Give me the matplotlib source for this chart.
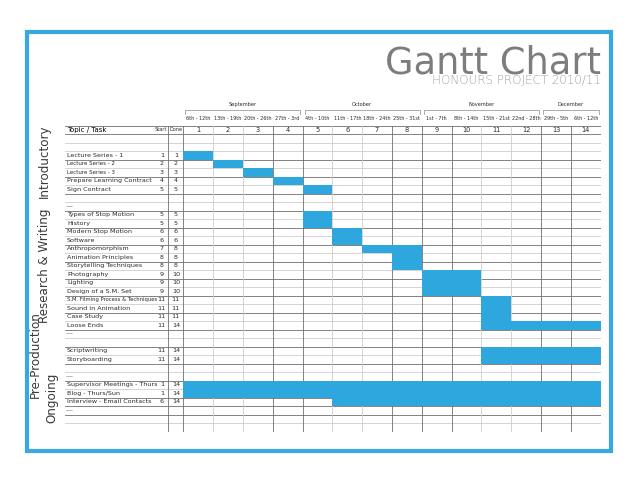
import matplotlib as mpl
mpl.use('Agg')
import matplotlib.pyplot as plt
import matplotlib.transforms as mtransforms
from matplotlib.patches import Rectangle


weeks = list(range(1, 15))
week_dates = ['6th - 12th', '13th - 19th', '20th - 26th', '27th - 3rd',
              '4th - 10th', '11th - 17th', '18th - 24th', '25th - 31st',
              '1st - 7th', '8th - 14th', '15th - 21st', '22nd - 28th',
              '29th - 5th', '6th - 12th']
months = ['September', 'October', 'November', 'December']
month_weeks = [4, 4, 4, 2]

# one entry per sheet row under the header ('' = empty row, '-' = dash row)
tasks = ['', '',
         'Lecture Series - 1', 'Lecture Series - 2', 'Lecture Series - 3',
         'Prepare Learning Contract', 'Sign Contract', '', '-',
         'Types of Stop Motion', 'History', 'Modern Stop Motion', 'Software',
         'Anthropomorphism', 'Animation Principles', 'Storytelling Techniques',
         'Photography', 'Lighting', 'Design of a S.M. Set',
         'S.M. Filming Process & Techniques', 'Sound in Animation',
         'Case Study', 'Loose Ends', '-', '',
         'Scriptwriting', 'Storyboarding', '', '-',
         'Supervisor Meetings - Thurs', 'Blog - Thurs/Sun',
         'Interview - Email Contacts', '-', '', '']
start = [None, None, 1, 2, 3, 4, 5, None, None,
         5, 5, 6, 6, 7, 8, 8, 9, 9, 9, 11, 11, 11, 11, None, None,
         11, 11, None, None, 1, 1, 6, None, None, None]
done = [None, None, 1, 2, 3, 4, 5, None, None,
        5, 5, 6, 6, 8, 8, 8, 10, 10, 10, 11, 11, 11, 14, None, None,
        14, 14, None, None, 14, 14, 14, None, None, None]

sections = ['Introductory', 'Research & Writing', 'Pre-Production', 'Ongoing']

bar_color = '#2ea7de'
dark = '#6f6f6f'
light = '#cdcdcd'
txt = '#2a2a2a'

##########

W, H = 638, 479
fig = plt.figure(figsize=(W / 100, H / 100), dpi=100)
fig.patch.set_facecolor('white')

# table area in pixels: left 65, right 600.7, top 95.75, bottom 431.5
ax = fig.add_axes([65 / W, (H - 431.5) / H, (600.7 - 65) / W, (431.5 - 95.75) / H])
ax.set_xlim(-3.968, 14)
ax.set_ylim(36, -3.5)
ax.axis('off')

n_rows = len(tasks) + 1

# horizontal grid lines
for b in range(n_rows + 1):
    k = b - 3
    if b <= 1 or (k > 0 and k % 2 == 1) or b == 33:
        col = dark
    else:
        col = light
    ax.plot([-3.968, 14], [b, b], color=col, lw=0.6, zorder=1)

# vertical grid lines of the week columns
dark_bounds = [0, 3, 4, 7, 8, 9, 12, 13, 14]
for w in range(15):
    col = dark if w in dark_bounds else light
    ax.plot([w, w], [0, n_rows], color=col, lw=0.6, zorder=1)
ax.plot([-0.503, -0.503], [0, n_rows + 0.6], color=dark, lw=0.6, zorder=1)
ax.plot([0, 0], [n_rows, n_rows + 0.6], color=dark, lw=0.6, zorder=1)

# bars
for i, (s, d) in enumerate(zip(start, done)):
    if s is None:
        continue
    ax.barh(i + 1.5, d - s + 1, left=s - 1, height=1.0, color=bar_color,
            edgecolor='none', zorder=2)

# task column text
for i, name in enumerate(tasks):
    y = i + 1.5
    if name == '-':
        ax.text(-3.93, y, '\u2014', fontsize=5, color='#777777', va='center', ha='left')
        continue
    if not name:
        continue
    if name in ('Lecture Series - 2', 'Lecture Series - 3'):
        fs = 4.0
    elif len(name) > 28:
        fs = 3.8
    else:
        fs = 4.6
    ax.text(-3.90, y, name, fontsize=fs, color=txt, va='center', ha='left')
    ax.text(-0.72, y, str(start[i]), fontsize=4.6, color=txt, va='center', ha='center')
    ax.text(-0.25, y, str(done[i]), fontsize=4.6, color=txt, va='center', ha='center')

# header row
ax.text(-3.90, 0.5, 'Topic / Task', fontsize=5, color='black', va='center', ha='left')
ax.text(-0.76, 0.5, 'Start', fontsize=3.6, color=txt, va='center', ha='center')
ax.text(-0.25, 0.5, 'Done', fontsize=3.6, color=txt, va='center', ha='center')
for w in weeks:
    ax.text(w - 0.5, 0.55, str(w), fontsize=4.8, color=txt, va='center', ha='center')
for w, lab in zip(weeks, week_dates):
    ax.text(w - 0.5, -0.85, lab, fontsize=3.5, color=txt, va='center', ha='center')

# month brackets
m0 = 0
for name, n in zip(months, month_weeks):
    m1 = m0 + n
    ax.plot([m0 + 0.07, m0 + 0.07, m1 - 0.07, m1 - 0.07],
            [-1.32, -1.82, -1.82, -1.32], color='#8a8a8a', lw=0.5)
    ax.text((m0 + m1) / 2, -2.5, name, fontsize=3.6, color=txt, va='center', ha='center')
    m0 = m1

# section labels on the left
blend = mtransforms.blended_transform_factory(fig.transFigure, ax.transData)
sec_x = [44, 45, 35, 52]
sec_y = [4.2, 16.5, 27.0, 32.0]
for name, x, y in zip(sections, sec_x, sec_y):
    ax.text(x / W, y, name, transform=blend, rotation=90, fontsize=8.6,
            color='#3a3a3a', va='center', ha='center', clip_on=False)

# title
fig.text(601 / W, 1 - 74 / H, 'Gantt Chart', fontsize=26.5, color='#7d7d7d',
         ha='right', va='baseline')
fig.text(601 / W, 1 - 84 / H, 'HONOURS PROJECT 2010/11', fontsize=8.6,
         color='#a0a0a0', ha='right', va='baseline', fontweight='light')

# blue frame
fig.patches.append(Rectangle((27 / W, (H - 451) / H), (611 - 27) / W, (451 - 32) / H,
                             transform=fig.transFigure, fill=False,
                             edgecolor='#38a9de', lw=3.0))

fig.savefig('out.png', dpi=100)
